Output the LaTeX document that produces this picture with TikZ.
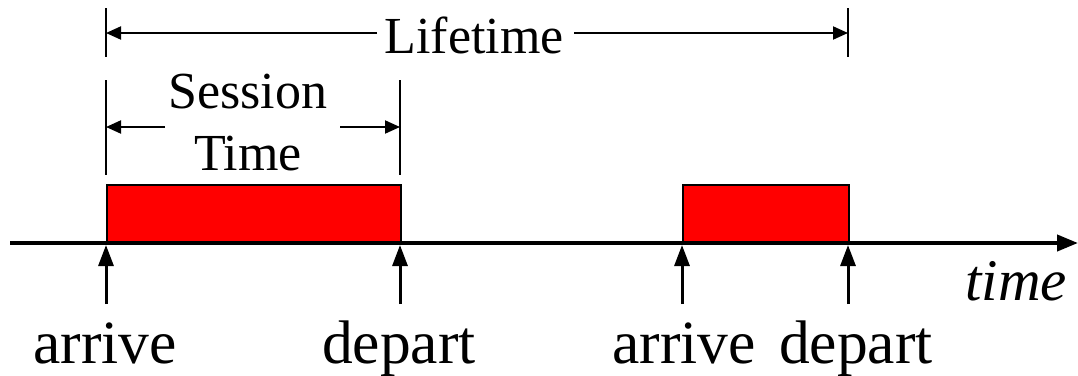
\documentclass[tikz,border=0pt]{standalone}
\usepackage{fontspec}
\setmainfont{Liberation Serif}
\usetikzlibrary{arrows.meta}
\begin{document}
\begin{tikzpicture}[x=1pt,y=-1pt,
  axisline/.style={line width=4pt,-{Triangle[length=21pt,width=16pt]}},
  eventarrow/.style={line width=3pt,-{Triangle[length=21pt,width=15pt]}},
  session/.style={draw=black,line width=2pt,fill=red},
  tick/.style={line width=2pt},
  span/.style={line width=2pt,-{Triangle[length=15pt,width=13pt]}},
  biglabel/.style={font=\fontsize{61.5}{61.5}\selectfont,anchor=base,inner sep=0pt},
  midlabel/.style={font=\fontsize{52}{52}\selectfont,anchor=base,inner sep=0pt}]
\useasboundingbox (0,0) rectangle (1078,375);
\clip (0,0) rectangle (1078,375);

% session blocks on the time axis
\node[session,minimum width=294pt,minimum height=57pt,inner sep=0pt,anchor=south west] (s1) at (106,243) {};
\node[session,minimum width=166pt,minimum height=57pt,inner sep=0pt,anchor=south west] (s2) at (682,243) {};

% time axis
\coordinate (t0) at (10,243);
\coordinate (t1) at (1078,243);
\draw[axisline] (t0) -- (t1);
\node[font=\fontsize{59}{59}\selectfont\itshape,anchor=base east,inner sep=0pt] (tl) at (1067,300) {time};

% arrival / departure events
\foreach \n/\x in {a1/106,d1/400,a2/682,d2/848}{
  \coordinate (\n-b) at (\x,304);
  \coordinate (\n-t) at (\x,245);
  \draw[eventarrow] (\n-b) -- (\n-t);
}
\node[biglabel] (la1) at (105,363) {arrive};
\node[biglabel] (ld1) at (399,363) {depart};
\node[biglabel] (la2) at (684,363) {arrive};
\node[biglabel] (ld2) at (856,363) {depart};

% lifetime span
\coordinate (lt1) at (106,8);
\coordinate (lb1) at (106,57);
\coordinate (lt2) at (848,8);
\coordinate (lb2) at (848,57);
\draw[tick] (lt1) -- (lb1);
\draw[tick] (lt2) -- (lb2);
\node[midlabel] (life) at (474,53) {Lifetime};
\coordinate (ll) at (106,33);
\coordinate (lr) at (848,33);
\draw[span] (377,33) coordinate (lm1) -- (ll);
\draw[span] (574,33) coordinate (lm2) -- (lr);

% session time span
\coordinate (st1) at (106,80);
\coordinate (sb1) at (106,175);
\coordinate (st2) at (400,80);
\coordinate (sb2) at (400,175);
\draw[tick] (st1) -- (sb1);
\draw[tick] (st2) -- (sb2);
\node[midlabel] (sess) at (248,108) {Session};
\node[midlabel] (stime) at (248,170) {Time};
\coordinate (sl) at (106,127);
\coordinate (sr) at (400,127);
\draw[span] (165,127) coordinate (sm1) -- (sl);
\draw[span] (340,127) coordinate (sm2) -- (sr);
\end{tikzpicture}
\end{document}
